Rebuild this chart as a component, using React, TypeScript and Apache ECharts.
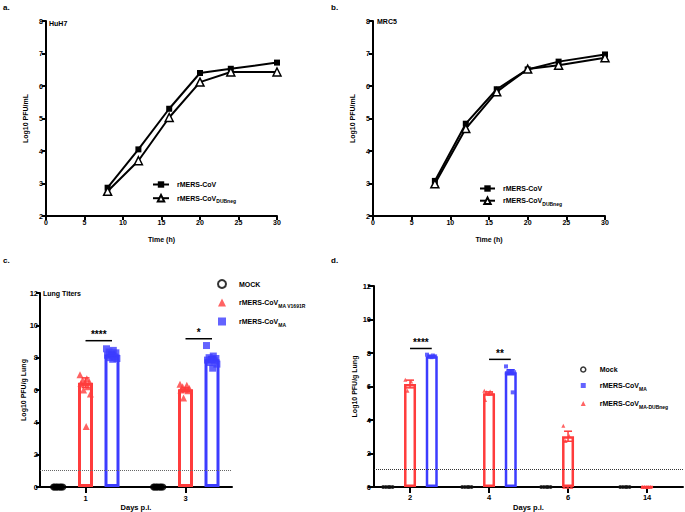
import React, { useEffect, useRef } from 'react';
import * as echarts from 'echarts';

// ---------- Data ----------
const timeH = [8, 12, 16, 20, 24, 30];
const huh7WT = [2.87, 4.05, 5.3, 6.4, 6.53, 6.72];
const huh7DUB = [2.76, 3.7, 5.03, 6.12, 6.43, 6.43];
const mrc5WT = [3.08, 4.84, 5.9, 6.51, 6.75, 6.97];
const mrc5DUB = [2.99, 4.69, 5.82, 6.52, 6.64, 6.87];

const cDays = ['1', '3'];
const cMockPts = [
  [0, 0, 0, 0, 0, 0, 0, 0],
  [0, 0, 0, 0, 0, 0, 0, 0],
];
const cRedMean = [6.45, 6.05];
const cRedSem = [0.3, 0.08];
const cRedPts = [
  [6.95, 6.7, 6.6, 6.5, 6.45, 6.4, 6.2, 6.0, 5.75, 3.75],
  [6.35, 6.3, 6.2, 6.1, 6.05, 6.0, 5.95, 5.5],
];
const cBlueMean = [8.2, 7.9];
const cBlueSem = [0.07, 0.14];
const cBluePts = [
  [8.55, 8.45, 8.35, 8.3, 8.2, 8.15, 8.05, 8.0, 7.95, 7.9],
  [8.75, 8.1, 8.0, 7.95, 7.9, 7.85, 7.8, 7.7, 7.6, 7.35],
];
const cSigStars = ['****', '*'];
const cSigY = [9.05, 9.17];

const dDays = ['2', '4', '6', '14'];
const dMockPts = [
  [0, 0, 0, 0, 0],
  [0, 0, 0, 0, 0],
  [0, 0, 0, 0, 0],
  [0, 0, 0, 0, 0],
];
const dRedMean = [6.15, 5.6, 3.03, 0];
const dRedSem = [0.23, 0.08, 0.3, 0];
const dRedPts = [
  [6.4, 6.3, 5.75],
  [5.75, 5.7, 5.65, 5.6, 5.55, 5.2],
  [3.65, 3.05, 2.75, 0, 0, 0],
  [0, 0, 0, 0, 0],
];
const dBlueMean: (number | null)[] = [7.8, 6.85, null, null];
const dBlueSem = [0.04, 0.15, 0, 0];
const dBluePts = [
  [7.9, 7.85, 7.8, 7.8, 7.75],
  [7.2, 6.9, 6.9, 6.85, 6.85, 6.8, 5.65],
  [],
  [],
];
const dSigStars = ['****', '**'];
const dSigY = [8.27, 7.62];

const limitC = 1.05;
const limitD = 1.05;

// ---------- Styles ----------
const FONT = '"Liberation Sans", Arial, Helvetica, sans-serif';
const RED = '#ff3c3c';
const BLUE = '#3c3cff';

function jitter(vals: number[], cx: number, hw: number): number[][] {
  const n = vals.length;
  return vals.map((v, k) => {
    const f = n > 1 ? ((k * 0.618034) % 1) * 2 - 1 : 0;
    return [cx + f * hw, v];
  });
}

const makeRich = (padLeft: number) => ({
  m: { fontSize: 7, fontWeight: 'bold', fontFamily: FONT, color: '#000', lineHeight: 11, padding: [0, 0, 0, padLeft] },
  s: { fontSize: 5, fontWeight: 'bold', fontFamily: FONT, color: '#000', verticalAlign: 'bottom' },
});
const legendFmt = (name: string) => {
  const [m, s] = name.split('|');
  return s ? `{m|${m}}{s|${s}}` : `{m|${m}}`;
};

const axisCommon = {
  axisLine: { onZero: false, lineStyle: { color: '#000', width: 2 } },
  axisTick: { length: 4, lineStyle: { color: '#000', width: 2 } },
  axisLabel: {
    color: '#000', fontSize: 7, fontWeight: 'bold', fontFamily: FONT, margin: 3,
    hideOverlap: false, showMinLabel: true, showMaxLabel: true,
  },
  splitLine: { show: false },
  nameTextStyle: { color: '#000', fontSize: 7, fontWeight: 'bold', fontFamily: FONT },
  nameLocation: 'middle',
  nameMoveOverlap: false,
};

function errorSeries(xi: number, yi: number, data: number[][], color: string, cap: number) {
  return {
    type: 'custom',
    xAxisIndex: xi,
    yAxisIndex: yi,
    silent: true,
    z: 6,
    data,
    renderItem: (params: any, api: any) => {
      const x = api.value(0);
      const m = api.value(1);
      const s = api.value(2);
      if (!s) return null;
      const t = api.coord([x, m + s]);
      const b = api.coord([x, m - s]);
      const st = { stroke: color, lineWidth: 1.5 };
      return {
        type: 'group',
        children: [
          { type: 'line', shape: { x1: t[0], y1: t[1], x2: b[0], y2: b[1] }, style: st },
          { type: 'line', shape: { x1: t[0] - cap, y1: t[1], x2: t[0] + cap, y2: t[1] }, style: st },
          { type: 'line', shape: { x1: b[0] - cap, y1: b[1], x2: b[0] + cap, y2: b[1] }, style: st },
        ],
      };
    },
  };
}

function sigSeries(xi: number, yi: number, data: number[][], stars: string[]) {
  return {
    type: 'custom',
    xAxisIndex: xi,
    yAxisIndex: yi,
    silent: true,
    z: 6,
    data,
    renderItem: (params: any, api: any) => {
      const p1 = api.coord([api.value(0), api.value(2)]);
      const p2 = api.coord([api.value(1), api.value(2)]);
      const text = stars[params.dataIndex];
      return {
        type: 'group',
        children: [
          { type: 'line', shape: { x1: p1[0], y1: p1[1], x2: p2[0], y2: p2[1] }, style: { stroke: '#000', lineWidth: 1.5 } },
          {
            type: 'text',
            x: (p1[0] + p2[0]) / 2,
            y: p1[1] - 1,
            style: {
              text,
              fill: '#000',
              fontSize: 10,
              fontWeight: 'bold',
              fontFamily: FONT,
              align: 'center',
              verticalAlign: 'bottom',
              textAlign: 'center',
              textVerticalAlign: 'bottom',
            },
          },
        ],
      };
    },
  };
}

function buildOption() {
  const C_MOCK = -0.265;
  const C_BLUE = 0.265;
  const D_MOCK = -0.27;
  const D_BLUE = 0.275;

  const series: any[] = [];
  // Panel a
  series.push({
    type: 'line', name: 'rMERS-CoV', xAxisIndex: 0, yAxisIndex: 0,
    data: timeH.map((t, i) => [t, huh7WT[i]]),
    symbol: 'rect', symbolSize: 6, itemStyle: { color: '#000' }, lineStyle: { color: '#000', width: 2 },
  });
  series.push({
    type: 'line', name: 'rMERS-CoV|DUBneg', xAxisIndex: 0, yAxisIndex: 0,
    data: timeH.map((t, i) => [t, huh7DUB[i]]),
    symbol: 'triangle', symbolSize: 8,
    itemStyle: { color: '#fff', borderColor: '#000', borderWidth: 1.5 }, lineStyle: { color: '#000', width: 2 },
  });
  // Panel b
  series.push({
    type: 'line', name: 'rMERS-CoV', xAxisIndex: 1, yAxisIndex: 1,
    data: timeH.map((t, i) => [t, mrc5WT[i]]),
    symbol: 'rect', symbolSize: 6, itemStyle: { color: '#000' }, lineStyle: { color: '#000', width: 2 },
  });
  series.push({
    type: 'line', name: 'rMERS-CoV|DUBneg', xAxisIndex: 1, yAxisIndex: 1,
    data: timeH.map((t, i) => [t, mrc5DUB[i]]),
    symbol: 'triangle', symbolSize: 8,
    itemStyle: { color: '#fff', borderColor: '#000', borderWidth: 1.5 }, lineStyle: { color: '#000', width: 2 },
  });

  // Panel c
  series.push({
    type: 'bar', name: 'cRedBar', xAxisIndex: 2, yAxisIndex: 2, barWidth: 15, barGap: '-100%', silent: true, z: 2,
    data: cRedMean.map((v, i) => [i + 1, v]),
    itemStyle: { color: 'rgba(255,255,255,0)', borderColor: RED, borderWidth: 3 },
    markLine: {
      silent: true, symbol: 'none', label: { show: false },
      lineStyle: { type: 'dotted', color: '#666', width: 1 }, data: [{ yAxis: limitC }],
    },
  });
  series.push({
    type: 'bar', name: 'cBlueBar', xAxisIndex: 2, yAxisIndex: 2, barWidth: 15, barGap: '-100%', silent: true, z: 2,
    data: cBlueMean.map((v, i) => [i + 1 + C_BLUE, v]),
    itemStyle: { color: 'rgba(255,255,255,0)', borderColor: BLUE, borderWidth: 3 },
  });
  series.push({
    type: 'scatter', name: 'MOCK', xAxisIndex: 2, yAxisIndex: 2, z: 5,
    data: cMockPts.flatMap((p, i) => jitter(p, i + 1 + C_MOCK, 0.055)),
    symbol: 'circle', symbolSize: 7, itemStyle: { color: '#000' },
  });
  series.push({
    type: 'scatter', name: 'rMERS-CoV|MA V1691R', xAxisIndex: 2, yAxisIndex: 2, z: 5,
    data: cRedPts.flatMap((p, i) => jitter(p, i + 1, 0.055)),
    symbol: 'triangle', symbolSize: 7, itemStyle: { color: RED },
  });
  series.push({
    type: 'scatter', name: 'rMERS-CoV|MA', xAxisIndex: 2, yAxisIndex: 2, z: 5,
    data: cBluePts.flatMap((p, i) => jitter(p, i + 1 + C_BLUE, 0.055)),
    symbol: 'rect', symbolSize: 7, itemStyle: { color: BLUE },
  });
  series.push(errorSeries(2, 2, cRedMean.map((m, i) => [i + 1, m, cRedSem[i]]), RED, 4));
  series.push(errorSeries(2, 2, cBlueMean.map((m, i) => [i + 1 + C_BLUE, m, cBlueSem[i]]), BLUE, 4));
  series.push(sigSeries(2, 2, cSigY.map((y, i) => [i + 1, i + 1 + C_BLUE, y]), cSigStars));

  // Panel d
  series.push({
    type: 'bar', name: 'dRedBar', xAxisIndex: 3, yAxisIndex: 3, barWidth: 12, barGap: '-100%', silent: true, z: 2,
    data: dRedMean.map((v, i) => [i + 1, v]),
    itemStyle: { color: 'rgba(255,255,255,0)', borderColor: RED, borderWidth: 2.5 },
    markLine: {
      silent: true, symbol: 'none', label: { show: false },
      lineStyle: { type: 'dotted', color: '#333', width: 1 }, data: [{ yAxis: limitD }],
    },
  });
  series.push({
    type: 'bar', name: 'dBlueBar', xAxisIndex: 3, yAxisIndex: 3, barWidth: 12, barGap: '-100%', silent: true, z: 2,
    data: dBlueMean.map((v, i) => [i + 1 + D_BLUE, v === null ? '-' : v]),
    itemStyle: { color: 'rgba(255,255,255,0)', borderColor: BLUE, borderWidth: 2.5 },
  });
  series.push({
    type: 'scatter', name: 'Mock', xAxisIndex: 3, yAxisIndex: 3, z: 5,
    data: dMockPts.flatMap((p, i) => jitter(p, i + 1 + D_MOCK, 0.07)),
    symbol: 'circle', symbolSize: 4, itemStyle: { color: '#111' },
  });
  series.push({
    type: 'scatter', name: 'rMERS-CoV|MA', xAxisIndex: 3, yAxisIndex: 3, z: 5,
    data: dBluePts.flatMap((p, i) => jitter(p, i + 1 + D_BLUE, 0.06)),
    symbol: 'rect', symbolSize: 4, itemStyle: { color: BLUE },
  });
  series.push({
    type: 'scatter', name: 'rMERS-CoV|MA-DUBneg', xAxisIndex: 3, yAxisIndex: 3, z: 5,
    data: dRedPts.flatMap((p, i) => jitter(p, i + 1, 0.06)),
    symbol: 'triangle', symbolSize: 4, itemStyle: { color: RED },
  });
  series.push(errorSeries(3, 3, dRedMean.map((m, i) => [i + 1, m, dRedSem[i]]), RED, 4));
  series.push(errorSeries(3, 3, dBlueMean.filter((m) => m !== null).map((m, i) => [i + 1 + D_BLUE, m as number, dBlueSem[i]]), BLUE, 4));
  series.push(sigSeries(3, 3, dSigY.map((y, i) => [i + 1, i + 1 + D_BLUE, y]), dSigStars));

  const titleStyle = (size: number) => ({ color: '#000', fontSize: size, fontWeight: 'bold', fontFamily: FONT });
  const legendBase = (padLeft: number) => ({
    orient: 'vertical', padding: 0, formatter: legendFmt, selectedMode: false,
    textStyle: { rich: makeRich(padLeft), fontSize: 7, fontWeight: 'bold', fontFamily: FONT, color: '#000' },
  });

  return {
    animation: false,
    backgroundColor: '#fff',
    title: [
      { text: 'a.', left: 3, top: 3, padding: 0, textStyle: titleStyle(8) },
      { text: 'b.', left: 331, top: 3, padding: 0, textStyle: titleStyle(8) },
      { text: 'c.', left: 3, top: 256, padding: 0, textStyle: titleStyle(8) },
      { text: 'd.', left: 331, top: 256, padding: 0, textStyle: titleStyle(8) },
      { text: 'HuH7', left: 49, top: 20, padding: 0, textStyle: titleStyle(7) },
      { text: 'MRC5', left: 377, top: 18, padding: 0, textStyle: titleStyle(7) },
      { text: 'Lung Titers', left: 43, top: 290, padding: 0, textStyle: titleStyle(7) },
    ],
    legend: [
      { ...legendBase(3), left: 152, top: 181, itemWidth: 16, itemHeight: 8, itemGap: 6, data: ['rMERS-CoV', 'rMERS-CoV|DUBneg'] },
      { ...legendBase(3), left: 479, top: 185, itemWidth: 15, itemHeight: 8, itemGap: 4.5, data: ['rMERS-CoV', 'rMERS-CoV|DUBneg'] },
      {
        ...legendBase(8), left: 217, top: 279, itemWidth: 8, itemHeight: 8, itemGap: 9.5,
        data: [
          { name: 'MOCK', icon: 'circle', itemStyle: { color: '#fff', borderColor: '#000', borderWidth: 2 } },
          'rMERS-CoV|MA V1691R',
          'rMERS-CoV|MA',
        ],
      },
      {
        ...legendBase(9), left: 580, top: 366, itemWidth: 5, itemHeight: 5, itemGap: 9,
        data: [
          { name: 'Mock', icon: 'circle', itemStyle: { color: '#fff', borderColor: '#000', borderWidth: 1.5 } },
          'rMERS-CoV|MA',
          'rMERS-CoV|MA-DUBneg',
        ],
      },
    ],
    grid: [
      { left: 46, top: 21, width: 231, height: 195 },
      { left: 373, top: 21, width: 232, height: 195 },
      { left: 40, top: 293, width: 192, height: 195 },
      { left: 374, top: 286, width: 309, height: 202 },
    ],
    xAxis: [
      { ...axisCommon, gridIndex: 0, type: 'value', min: 0, max: 30, interval: 5, name: 'Time (h)', nameGap: 20 },
      { ...axisCommon, gridIndex: 1, type: 'value', min: 0, max: 30, interval: 5, name: 'Time (h)', nameGap: 20 },
      {
        ...axisCommon, gridIndex: 2, type: 'value', min: 0.545, max: 2.465, name: 'Days p.i.', nameGap: 16,
        nameTextStyle: { ...axisCommon.nameTextStyle, fontSize: 7.5 },
        axisTick: { ...axisCommon.axisTick, length: 6, customValues: [1, 2] },
        axisLabel: { ...axisCommon.axisLabel, fontSize: 7.5, margin: 7, customValues: [1, 2], formatter: (v: number) => cDays[Math.round(v) - 1] ?? '' },
      },
      {
        ...axisCommon, gridIndex: 3, type: 'value', min: 0.544, max: 4.455, name: 'Days p.i.', nameGap: 16,
        nameTextStyle: { ...axisCommon.nameTextStyle, fontSize: 7.5 },
        axisTick: { ...axisCommon.axisTick, length: 6, customValues: [1, 2, 3, 4] },
        axisLabel: { ...axisCommon.axisLabel, fontSize: 7.5, margin: 6, customValues: [1, 2, 3, 4], formatter: (v: number) => dDays[Math.round(v) - 1] ?? '' },
      },
    ],
    yAxis: [
      { ...axisCommon, gridIndex: 0, type: 'value', min: 2, max: 8, interval: 1, name: 'Log10 PFU/mL', nameGap: 17 },
      { ...axisCommon, gridIndex: 1, type: 'value', min: 2, max: 8, interval: 1, name: 'Log10 PFU/mL', nameGap: 17 },
      {
        ...axisCommon, gridIndex: 2, type: 'value', min: 0, max: 12, interval: 2, name: 'Log10 PFU/g Lung', nameGap: 13,
        axisTick: { ...axisCommon.axisTick, length: 4 },
        axisLabel: { ...axisCommon.axisLabel, fontSize: 7.5, margin: 2 },
      },
      {
        ...axisCommon, gridIndex: 3, type: 'value', min: 0, max: 12, interval: 2, name: 'Log10 PFU/g Lung', nameGap: 16,
        axisTick: { ...axisCommon.axisTick, length: 6 },
        axisLabel: { ...axisCommon.axisLabel, fontSize: 7.5, margin: 3 },
      },
    ],
    series,
  };
}

export default function App() {
  const ref = useRef<HTMLDivElement>(null);
  useEffect(() => {
    document.body.style.margin = '0';
    const chart = echarts.init(ref.current as HTMLDivElement, null, { renderer: 'svg' });
    chart.setOption(buildOption() as any);
    return () => chart.dispose();
  }, []);
  return <div ref={ref} style={{ width: 685, height: 512 }} />;
}
